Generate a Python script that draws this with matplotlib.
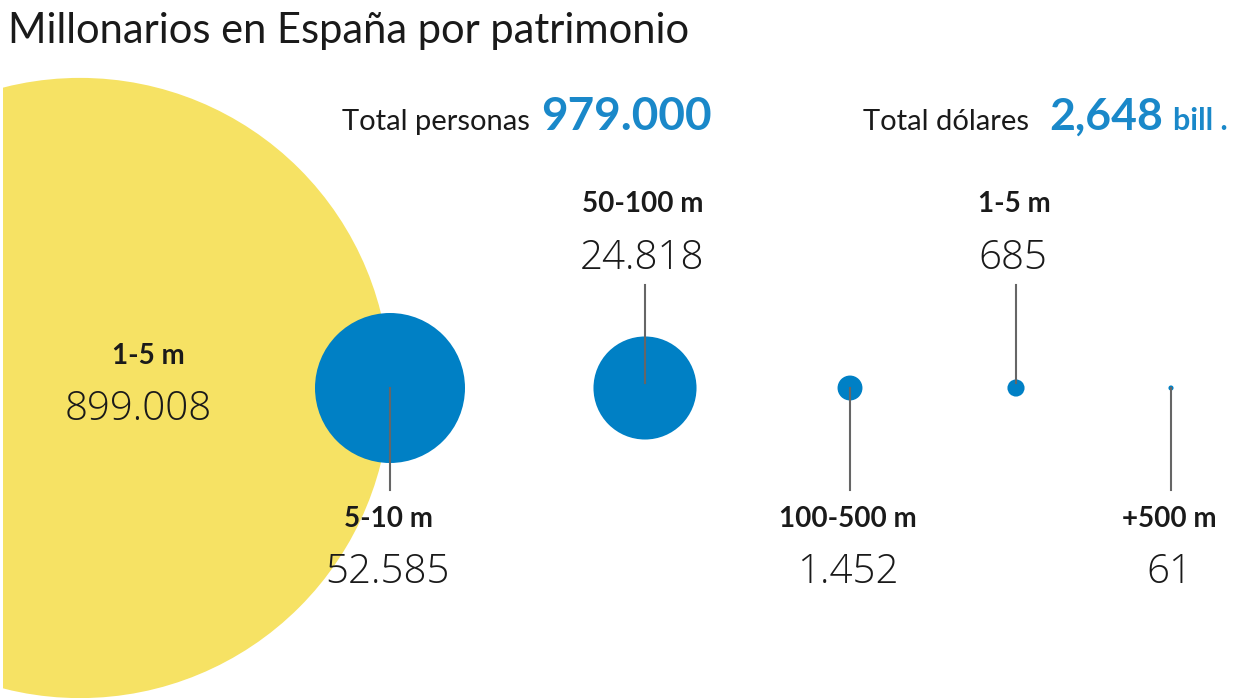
import matplotlib
matplotlib.use("Agg")
import matplotlib.pyplot as plt
from matplotlib.patches import Circle, Rectangle
import numpy as np

# ---- datos ----
grupos = ["1-5 m", "5-10 m", "50-100 m", "100-500 m", "1-5 m", "+500 m"]
personas = [899008, 52585, 24818, 1452, 685, 61]
total_personas = "979.000"
total_dolares = "2,648"

# ---- estilo ----
AMARILLO, AZUL, AZUL_TXT, GRIS, NEGRO = "#f6e264", "#0080c5", "#1a88c9", "#666666", "#1a1a1a"
plt.rcParams["font.family"] = ["Lato", "DejaVu Sans"]
NUM = dict(family=["Open Sans", "DejaVu Sans"], fontweight="light", fontsize=29, color=NEGRO)
ETQ = dict(fontsize=20, fontweight="bold", color=NEGRO)

W, H = 1248, 698
fig = plt.figure(figsize=(W / 100, H / 100), dpi=100)
ax = fig.add_axes([0, 0, 1, 1])
ax.set_xlim(0, W)
ax.set_ylim(H, 0)
ax.set_aspect("equal")
ax.axis("off")

# posicion de cada burbuja y lado de la etiqueta
cx = [80, 390, 645, 850, 1016, 1171]
cy = 388
lado = ["in", "down", "up", "down", "up", "down"]
k = 75 / np.sqrt(personas[1])   # escala: area proporcional a personas
clip = Rectangle((3, 0), W, H, transform=ax.transData)


def fmt(v):
    return f"{v:,}".replace(",", ".")


for i, (g, v) in enumerate(zip(grupos, personas)):
    r = k * np.sqrt(v)
    col = AMARILLO if i == 0 else AZUL
    c = ax.add_patch(Circle((cx[i], cy), r, color=col, lw=0, zorder=1 if i == 0 else 2))
    c.set_clip_path(clip)
    if lado[i] == "in":
        ax.text(148, 364, g, ha="center", va="baseline", zorder=4, **ETQ)
        ax.text(138, 420, fmt(v), ha="center", va="baseline", zorder=4, **NUM)
    elif lado[i] == "down":
        ax.plot([cx[i], cx[i]], [cy, 490], color=GRIS, lw=1.5, zorder=3)
        ax.text(cx[i] - 2, 527, g, ha="center", va="baseline", zorder=4, **ETQ)
        ax.text(cx[i] - 2, 583, fmt(v), ha="center", va="baseline", zorder=4, **NUM)
    else:
        ax.plot([cx[i], cx[i]], [285, cy - 5], color=GRIS, lw=1.5, zorder=3)
        ax.text(cx[i] - 2, 212, g, ha="center", va="baseline", zorder=4, **ETQ)
        ax.text(cx[i] - 3, 269, fmt(v), ha="center", va="baseline", zorder=4, **NUM)

# ---- titulo y totales ----
ax.text(8, 43, "Millonarios en España por patrimonio", ha="left", va="baseline",
        fontsize=30, color=NEGRO)
ax.text(342, 130, "Total personas", ha="left", va="baseline", fontsize=21, color=NEGRO)
ax.text(541, 130, total_personas, ha="left", va="baseline", fontsize=33, fontweight="bold", color=AZUL_TXT)
ax.text(863, 130, "Total dólares", ha="left", va="baseline", fontsize=21, color=NEGRO)
ax.text(1049, 130, total_dolares, ha="left", va="baseline", fontsize=32, fontweight="bold", color=AZUL_TXT)
ax.text(1173, 130, "bill .", ha="left", va="baseline", fontsize=22, fontweight="bold", color=AZUL_TXT)

fig.savefig("out.png", dpi=100, facecolor="white")
